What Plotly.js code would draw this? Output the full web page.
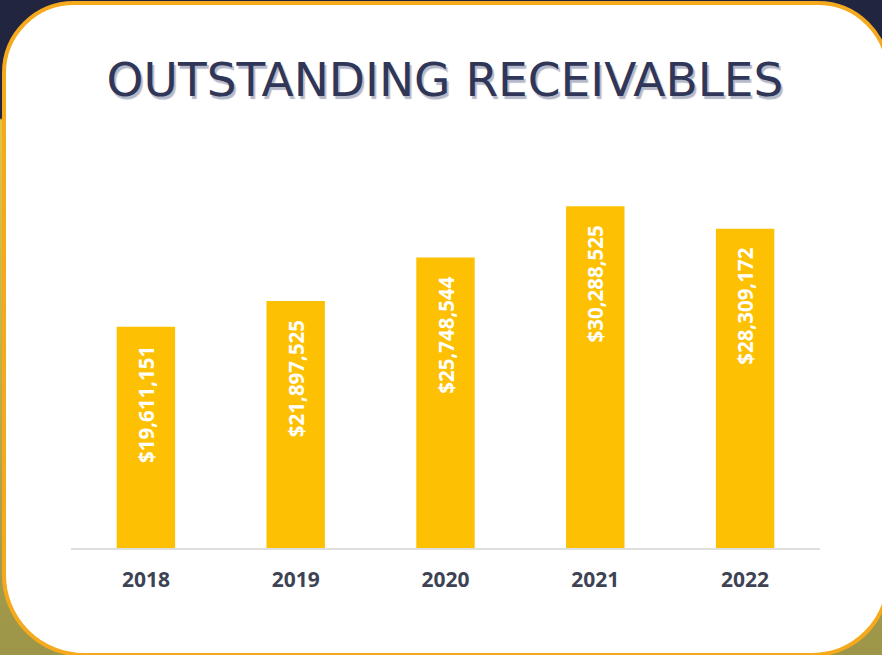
<!DOCTYPE html>
<html>
<head>
<meta charset="utf-8">
<script src="https://cdn.plot.ly/plotly-3.0.1.min.js"></script>
<style>
  html, body { margin: 0; padding: 0; }
  #wrap {
    position: relative; width: 882px; height: 655px; overflow: hidden;
    background: linear-gradient(to bottom, #22253f 0px, #22253f 118px, #e2c443 120px, #c9b747 300px, #a39a4c 560px, #9d9548 655px);
  }
  #card {
    position: absolute; left: 2px; top: 1px; width: 880px; height: 648px;
    background: #ffffff; border: 4px solid #f5a91c; border-radius: 72px 72px 78px 82px;
  }
  #chart { position: absolute; left: 0; top: 0; width: 882px; height: 655px; }
</style>
</head>
<body>
<div id="wrap">
  <div id="card"></div>
  <div id="chart"></div>
</div>
<script>
const years = ["2018", "2019", "2020", "2021", "2022"];
const receivables = [19611151, 21897525, 25748544, 30288525, 28309172];
const valueLabels = ["$19,611,151", "$21,897,525", "$25,748,544", "$30,288,525", "$28,309,172"];

const trace = {
  type: "bar",
  x: years,
  y: receivables,
  marker: { color: "#fdc002" },
  width: 0.39,
  text: valueLabels,
  textposition: "inside",
  insidetextanchor: "end",
  textangle: -90,
  texttemplate: "%{text}\u00a0\u00a0\u00a0",
  textfont: { family: "Open Sans", size: 20.5, color: "#ffffff", weight: 700 },
  hoverinfo: "none",
  cliponaxis: false
};

const layout = {
  width: 882, height: 655,
  paper_bgcolor: "rgba(0,0,0,0)",
  plot_bgcolor: "rgba(0,0,0,0)",
  margin: { l: 71, r: 62, t: 187, b: 107, pad: 0 },
  showlegend: false,
  title: {
    text: "OUTSTANDING RECEIVABLES",
    x: 0.5045, xref: "container", xanchor: "center",
    y: 0.878, yref: "container", yanchor: "middle",
    font: { family: "DejaVu Sans", size: 47, color: "#2f3658", shadow: "2px 3px 1px #b4b8c8" }
  },
  xaxis: {
    type: "category",
    showline: true, linecolor: "#dedede", linewidth: 2,
    ticks: "outside", ticklen: 12, tickcolor: "rgba(0,0,0,0)",
    tickfont: { family: "Open Sans", size: 21, color: "#3d4354", weight: 700 },
    showgrid: false, zeroline: false, fixedrange: true
  },
  yaxis: {
    range: [0, 32000000],
    showticklabels: false, showgrid: false, zeroline: false, showline: false,
    ticks: "", fixedrange: true
  }
};

Plotly.newPlot("chart", [trace], layout, { displayModeBar: false, staticPlot: true });
</script>
</body>
</html>
